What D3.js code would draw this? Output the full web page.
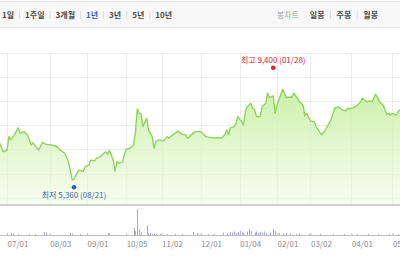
<!DOCTYPE html>
<html>
<head>
<meta charset="utf-8">
<script src="https://cdn.jsdelivr.net/npm/d3@7"></script>
<style>
  body { margin: 0; background: #fff; }
  svg { display: block; font-family: "Noto Sans CJK KR", "Noto Sans", sans-serif; }
</style>
</head>
<body>
<div id="chart"></div>
<script>
// period tabs and candle tabs in the top bar
const periodTabs = ["1일", "1주일", "3개월", "1년", "3년", "5년", "10년"];
const activeTab = "1년";
const candleTabs = ["일봉", "주봉", "월봉"];

// x ticks: trading-day index counted from 2020-07-01
const tickDays = [0, 23, 43, 64, 83, 104, 125, 145, 163, 185, 207];
const tickLabels = ["07/01", "08/03", "09/01", "10/05", "11/02", "12/01", "01/04", "02/01", "03/02", "04/01", "05/03"];

// price grid lines (won)
const gridPrices = [5000, 5820, 6640, 7460, 8270, 9090, 9910];

// closing price line (trading-day index, won)
const dayIdx = [-4, -2, 0, 1, 2, 4, 6, 7, 9, 11, 13, 14, 16, 17, 19, 21, 24, 27, 28, 31,
  33, 34, 35, 36, 38, 39, 41, 42, 44, 45, 47, 48, 50, 52, 53, 54, 55, 56, 57, 58,
  59, 60, 62, 63, 64, 66, 68, 69, 70, 71, 72, 73, 75, 76, 78, 79, 80, 82, 84, 86,
  87, 89, 92, 94, 96, 97, 99, 101, 104, 105, 107, 109, 111, 113, 115, 117, 118, 119, 120, 122,
  123, 124, 126, 127, 128, 129, 131, 132, 133, 134, 136, 137, 139, 140, 141, 143, 144, 145, 147, 148,
  150, 151, 153, 154, 156, 157, 159, 160, 161, 163, 165, 166, 169, 171, 173, 174, 176, 178, 180, 182,
  183, 184, 186, 188, 190, 191, 193, 195, 196, 198, 199, 200, 202, 204, 205, 206, 207, 209, 210, 211, 212];
const closes = [6860, 6560, 6620, 7070, 6960, 7130, 7370, 7190, 7240, 7130, 6790, 6860, 6690, 6620, 6880, 6810, 6790, 6730, 6640, 6510,
  6230, 5940, 5610, 5640, 5890, 5940, 5890, 6060, 6110, 6280, 6250, 6340, 6390, 6510, 6560, 6480, 6600, 6450, 6280, 5910,
  6230, 6170, 6210, 6450, 6650, 6680, 6790, 7240, 8010, 7860, 7830, 7410, 7690, 7300, 7070, 6680, 6920, 6960, 6920, 7070,
  7020, 7130, 7260, 7150, 7130, 7020, 7130, 7240, 7240, 7180, 7070, 7040, 7020, 7040, 7020, 7130, 7300, 7130, 7370, 7410,
  7520, 7750, 7580, 7460, 7910, 8080, 8200, 8030, 7970, 7750, 7750, 8080, 8200, 8540, 8390, 8450, 7860, 8140, 8480, 8670,
  8390, 8410, 8400, 8540, 8370, 8250, 8140, 7770, 7860, 7600, 7580, 7410, 7130, 7300, 7520, 7630, 8030, 8080, 7970, 7940,
  8030, 8010, 8050, 8120, 8250, 8370, 8250, 8280, 8250, 8500, 8390, 8250, 8140, 7830, 7860, 7800, 7860, 7800, 7910, 7970, 7970];

// yearly high / low markers
const highDay = 143, highPrice = 9400, highLabel = "최고 9,400 (01/28)";
const lowDay = 36, lowPrice = 5360, lowLabel = "최저 5,360 (08/21)";

// volume bars (trading-day index, thousand shares)
const volDays = [2, 3, 6, 12, 15, 20, 21, 34, 35, 39, 54, 55, 68, 69, 70, 71, 72, 75, 76, 77,
  78, 79, 80, 82, 86, 90, 94, 100, 102, 104, 108, 111, 116, 118, 120, 121, 122, 123, 124, 125,
  126, 127, 129, 130, 131, 133, 134, 135, 136, 137, 138, 139, 141, 143, 144, 146, 148, 150, 152, 155,
  157, 162, 168, 175, 181, 188, 194, 199, 205, 210];
const volumes = [400, 300, 200, 200, 200, 600, 500, 400, 300, 200, 400, 300, 1400, 800, 5200, 1200, 600, 2000, 300, 400,
  200, 300, 200, 200, 200, 200, 200, 600, 400, 200, 200, 200, 500, 400, 600, 500, 700, 400, 600, 800,
  500, 400, 700, 1200, 800, 500, 700, 400, 600, 500, 700, 400, 500, 1200, 800, 400, 300, 400, 300, 200,
  300, 200, 200, 200, 200, 200, 200, 200, 200, 200];

const W = 400, H = 260;
const panelBottom = 204, volBase = 235, volTop = 209;

const svg = d3.select("#chart").append("svg")
    .attr("width", W)
    .attr("height", H);

// top tab bar
svg.append("rect")
    .attr("x", 0).attr("y", 1).attr("width", W).attr("height", 26)
    .attr("fill", "#f8f8f8");
svg.append("line").attr("x1", 0).attr("x2", W).attr("y1", 1.5).attr("y2", 1.5).attr("stroke", "#e2e2e2");
svg.append("line").attr("x1", 0).attr("x2", W).attr("y1", 27.5).attr("y2", 27.5).attr("stroke", "#e2e2e2");

let tx = 2;
periodTabs.forEach((t, i) => {
    const txt = svg.append("text")
        .attr("x", tx).attr("y", 18)
        .attr("font-size", 8).attr("font-weight", "bold")
        .attr("fill", t === activeTab ? "#3b5bcf" : "#4a4a4a")
        .text(t);
    const w = txt.node().getComputedTextLength();
    if (i < periodTabs.length - 1) {
        svg.append("line")
            .attr("x1", tx + w + 5.5).attr("x2", tx + w + 5.5)
            .attr("y1", 11).attr("y2", 19)
            .attr("stroke", "#dcdcdc");
    }
    tx += w + 11;
});

// candle tabs, laid out right to left
let rx = 378;
candleTabs.slice().reverse().forEach((t, i) => {
    const txt = svg.append("text")
        .attr("x", rx).attr("y", 18)
        .attr("text-anchor", "end")
        .attr("font-size", 8).attr("font-weight", "bold")
        .attr("fill", "#4a4a4a")
        .text(t);
    const w = txt.node().getComputedTextLength();
    rx -= w;
    if (i < candleTabs.length - 1) {
        svg.append("line")
            .attr("x1", rx - 6).attr("x2", rx - 6)
            .attr("y1", 11).attr("y2", 19)
            .attr("stroke", "#dcdcdc");
    }
    rx -= 12;
});
svg.append("text")
    .attr("x", rx + 1).attr("y", 18)
    .attr("text-anchor", "end")
    .attr("font-size", 8)
    .attr("fill", "#a0a0a0")
    .text("봉차트");

// scales
const x = d3.scaleLinear()
    .domain([0, 207])
    .range([7, 392.4]);
const y = d3.scaleLinear()
    .domain([lowPrice, highPrice])
    .range([187.3, 67.7]);
const yv = d3.scaleLinear()
    .domain([0, d3.max(volumes)])
    .range([volBase, volTop]);

// grid
svg.append("g")
    .selectAll("line")
    .data(gridPrices)
    .join("line")
    .attr("x1", 0).attr("x2", W)
    .attr("y1", d => Math.round(y(d)) + 0.5)
    .attr("y2", d => Math.round(y(d)) + 0.5)
    .attr("stroke", "#ececec");

svg.append("g")
    .selectAll("line")
    .data(tickDays)
    .join("line")
    .attr("x1", d => Math.round(x(d)) + 0.5)
    .attr("x2", d => Math.round(x(d)) + 0.5)
    .attr("y1", y(gridPrices[gridPrices.length - 1]))
    .attr("y2", panelBottom)
    .attr("stroke", "#ececec");

// price area + line
const series = dayIdx.map((d, i) => ({ day: d, value: closes[i] }));

const grad = svg.append("defs").append("linearGradient")
    .attr("id", "fillGrad")
    .attr("gradientUnits", "userSpaceOnUse")
    .attr("x1", 0).attr("x2", 0)
    .attr("y1", 85).attr("y2", panelBottom);
grad.append("stop").attr("offset", 0).attr("stop-color", "#c6efa0").attr("stop-opacity", 0.95);
grad.append("stop").attr("offset", 1).attr("stop-color", "#eefbe3").attr("stop-opacity", 0.6);

svg.append("path")
    .datum(series)
    .attr("fill", "url(#fillGrad)")
    .attr("d", d3.area()
        .x(d => x(d.day))
        .y0(panelBottom)
        .y1(d => y(d.value)));

svg.append("path")
    .datum(series)
    .attr("fill", "none")
    .attr("stroke", "#8fd35c")
    .attr("stroke-width", 1.4)
    .attr("stroke-linejoin", "round")
    .attr("d", d3.line()
        .x(d => x(d.day))
        .y(d => y(d.value)));

// panel bottom border
svg.append("rect")
    .attr("x", 0).attr("y", panelBottom).attr("width", W).attr("height", 2)
    .attr("fill", "#cfcfcf");

// high / low markers
svg.append("circle")
    .attr("cx", x(highDay)).attr("cy", y(highPrice)).attr("r", 2.3)
    .attr("fill", "#d9232e");
svg.append("text")
    .attr("x", x(highDay)).attr("y", y(highPrice) - 5)
    .attr("text-anchor", "middle")
    .attr("font-size", 8)
    .attr("fill", "#d9232e")
    .text(highLabel);

svg.append("circle")
    .attr("cx", x(lowDay)).attr("cy", y(lowPrice)).attr("r", 2.3)
    .attr("fill", "#2f5fb3");
svg.append("text")
    .attr("x", x(lowDay)).attr("y", y(lowPrice) + 11)
    .attr("text-anchor", "middle")
    .attr("font-size", 8)
    .attr("fill", "#3a66b0")
    .text(lowLabel);

// volume bars
svg.append("g")
    .selectAll("line")
    .data(volDays.map((d, i) => ({ day: d, value: volumes[i] })))
    .join("line")
    .attr("x1", d => Math.round(x(d.day)) + 0.5)
    .attr("x2", d => Math.round(x(d.day)) + 0.5)
    .attr("y1", volBase)
    .attr("y2", d => yv(d.value))
    .attr("stroke", "#aaa6dc")
    .attr("stroke-width", 1);

// x axis
const xAxis = d3.axisBottom(x)
    .tickValues(tickDays)
    .tickFormat((d, i) => tickLabels[i])
    .tickSize(3)
    .tickSizeOuter(0);

svg.append("g")
    .attr("transform", `translate(0,${volBase})`)
    .call(xAxis)
    .call(g => g.select(".domain")
        .attr("d", `M0,0.5H${W}`)
        .attr("stroke", "#bdbdbd"))
    .call(g => g.selectAll(".tick line")
        .attr("y1", -2).attr("y2", 1)
        .attr("stroke", "#bdbdbd"))
    .call(g => g.selectAll(".tick text")
        .attr("text-anchor", "start")
        .attr("x", 0)
        .attr("y", 6)
        .attr("font-family", "\"Noto Sans CJK KR\", sans-serif")
        .attr("font-size", 8)
        .attr("fill", "#8a8a8a"));
</script>
</body>
</html>
